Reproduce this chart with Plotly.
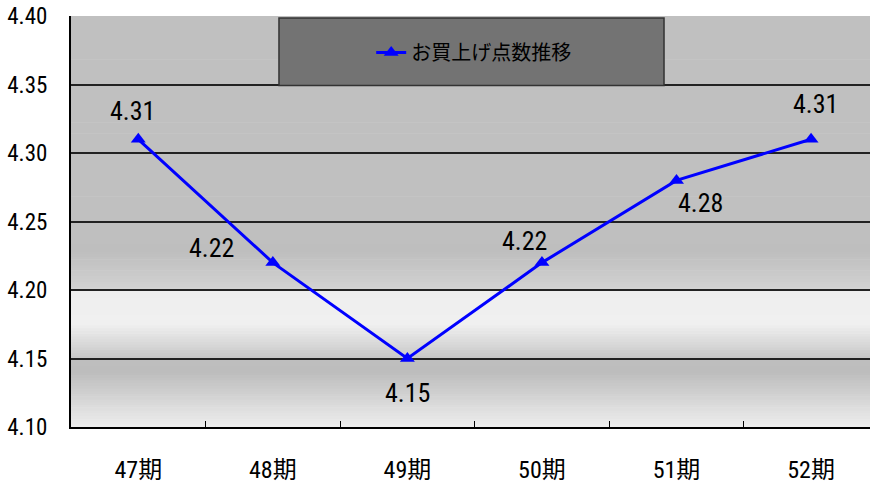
import plotly.graph_objects as go
import numpy as np

# ---- data ----
periods = ["47期", "48期", "49期", "50期", "51期", "52期"]
values = [4.31, 4.22, 4.15, 4.22, 4.28, 4.31]
series_name = "お買上げ点数推移"
y_ticks = [4.10, 4.15, 4.20, 4.25, 4.30, 4.35, 4.40]

# label offsets (pixels) – style only
label_dx = [-6, -61, 0, -17, 24, 4]
label_dy = [28, 15, -34, 22, -23, 35]

NUM_FONT = "Roboto Condensed, Noto Sans CJK JP, sans-serif"
CJK_FONT = "Noto Sans CJK JP, sans-serif"

fig = go.Figure()

# background gradient bands (gray levels at y positions)
stops = [(4.40, 192), (4.25, 192), (4.228, 190), (4.203, 208), (4.2001, 212),
         (4.1999, 238), (4.175, 240), (4.152, 202), (4.1501, 198), (4.1499, 190),
         (4.14, 189), (4.10, 238)]
sy = np.array([s[0] for s in stops][::-1])
sg = np.array([s[1] for s in stops][::-1])
edges = np.linspace(4.10, 4.40, 151)
shapes = []
for i in range(len(edges) - 1):
    mid = (edges[i] + edges[i + 1]) / 2
    g = int(round(np.interp(mid, sy, sg)))
    shapes.append(dict(type="rect", xref="paper", yref="y", x0=0, x1=1,
                       y0=edges[i], y1=edges[i + 1] + 0.0005, layer="below",
                       line=dict(width=0), fillcolor=f"rgb({g},{g},{g})"))
# legend box
shapes.append(dict(type="rect", xref="paper", yref="paper",
                   x0=0.2603, x1=0.7422, y0=0.8309, y1=0.9952, layer="above",
                   line=dict(color="#333333", width=1.5), fillcolor="#737373"))

fig.add_trace(go.Scatter(
    x=periods, y=values, mode="lines+markers", name=series_name,
    line=dict(color="#0000ff", width=3),
    marker=dict(symbol="triangle-up", size=13, color="#0000ff"),
    showlegend=True,
))

for p, v, dx, dy in zip(periods, values, label_dx, label_dy):
    fig.add_annotation(x=p, y=v, text=f"{v:.2f}", showarrow=False,
                       xshift=dx, yshift=dy,
                       font=dict(family=NUM_FONT, size=26, color="black"))

fig.update_layout(
    width=870, height=484,
    margin=dict(l=71, r=0, t=16, b=54),
    paper_bgcolor="white",
    plot_bgcolor="rgba(0,0,0,0)",
    shapes=shapes,
    showlegend=True,
    legend=dict(x=0.504, y=0.911, xanchor="center", yanchor="middle",
                bgcolor="rgba(0,0,0,0)", borderwidth=0,
                font=dict(family=CJK_FONT, size=20, color="black"),
                itemwidth=30),
    xaxis=dict(type="category", categoryorder="array", categoryarray=periods,
               range=[-0.5, 5.438], tickson="boundaries", ticks="inside",
               ticklen=6, tickcolor="black", tickwidth=1,
               showgrid=False, showline=True, linecolor="black", linewidth=2,
               tickfont=dict(family=NUM_FONT, size=24, color="black"),
               ticklabelstandoff=20, zeroline=False),
    yaxis=dict(range=[4.10, 4.40], tickmode="array", tickvals=y_ticks,
               ticktext=[f"{t:.2f}" for t in y_ticks],
               showgrid=True, gridcolor="#222222", gridwidth=1.5,
               showline=True, linecolor="black", linewidth=2,
               ticks="", zeroline=False,
               tickfont=dict(family=NUM_FONT, size=23, color="black"),
               ticklabelstandoff=17),
)

fig.write_html("out.html")
